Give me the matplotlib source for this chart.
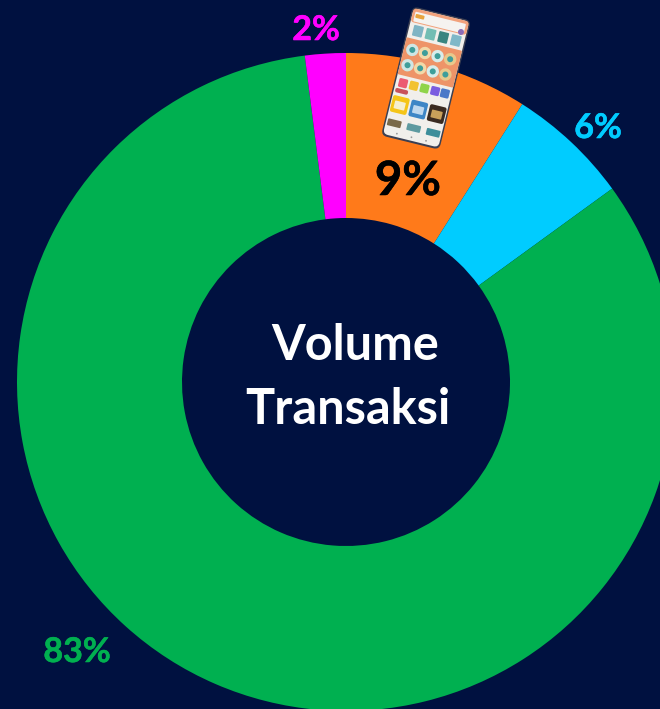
import matplotlib
matplotlib.use("Agg")
import matplotlib.pyplot as plt
from matplotlib.patches import FancyBboxPatch, Circle
from matplotlib.patheffects import withStroke
from matplotlib.transforms import Affine2D

W, H = 660, 709
BG = "#001140"
labels = ["Aplikasi", "Lainnya 1", "Lainnya 2", "Lainnya 3"]
values = [9, 6, 83, 2]
pct_text = ["9%", "6%", "83%", "2%"]
colors = ["#FF7A1A", "#00CCFF", "#00B050", "#FF00FF"]
pct_colors = ["#000000", "#00CCFF", "#00B050", "#FF00FF"]
pct_pos = [(408, 181), (598, 128), (77, 652), (316, 30)]
pct_size = [34, 24.5, 24.5, 24.5]
center_lines = ["Volume", "Transaksi"]
center_pos = [(355, 346), (348, 410)]

plt.rcParams["font.family"] = ["Lato", "DejaVu Sans"]
fig = plt.figure(figsize=(W / 100, H / 100), dpi=100, facecolor=BG)
ax = fig.add_axes([0, 0, 1, 1])

cx, cy, R, r = 346, 382, 329, 164
ax.pie(values, colors=colors, startangle=90, counterclock=False,
       radius=R, center=(cx, H - cy), frame=True,
       wedgeprops=dict(width=R - r, linewidth=0))
ax.set_xlim(0, W)
ax.set_ylim(0, H)
ax.set_aspect("equal")
ax.axis("off")

for t, (x, y), c, s in zip(pct_text, pct_pos, pct_colors, pct_size):
    ax.text(x, H - y, t, color=c, fontsize=s, fontweight="bold", ha="center", va="center", zorder=6,
            path_effects=[withStroke(linewidth=0.4, foreground=c)])
for t, (x, y) in zip(center_lines, center_pos):
    ax.text(x, H - y, t, color="white", fontsize=35, fontweight="bold", ha="center", va="center", zorder=6)

# phone illustration, drawn in its own tilted local frame
tf = Affine2D().rotate_deg(-13.8).translate(426, H - 78) + ax.transData


def box(u0, v0, w, h, col, rad=1.0, z=7):
    p = FancyBboxPatch((u0 + rad, v0 + rad), w - 2 * rad, h - 2 * rad,
                       boxstyle=f"round,pad={rad},rounding_size={rad}",
                       fc=col, ec="none", transform=tf, zorder=z)
    ax.add_patch(p)


def dot(u, v, rad, col, z=9):
    ax.add_patch(Circle((u, v), rad, fc=col, ec="none", transform=tf, zorder=z))


box(-30, -66.5, 60, 133, "#3B3F52", rad=6, z=7)
box(-28.5, -64.5, 57, 129.5, "#F1EFEB", rad=5, z=7.5)
box(-28.5, 51, 57, 14, "#F2A27C", rad=3, z=8)
box(-26, 52, 52, 10, "#F5F3F0", rad=1, z=8.5)
box(-25, 56, 9, 4, "#E8A33D", rad=1, z=9)
dot(23, 53, 3, "#8B6BB5")
# top card icons
for u, c in zip([-19, -6, 7, 20], ["#7FB4C4", "#72BDB3", "#3A8580", "#7FB8C8"]):
    box(u - 5, 38, 10, 11, c, rad=1, z=9)
# orange panel with two rows of round icons
box(-28.5, -3, 57, 38, "#EE9468", rad=1, z=8)
for v, us in zip([24, 8], [[-20, -7, 6, 19], [-21, -8, 5, 18]]):
    for u, c in zip(us, ["#CFE6E4", "#F2D9A8", "#D8ECEA", "#E8C98C"]):
        dot(u, v, 6.2, c)
        dot(u, v, 3, "#3E9E9A", z=10)
# colour squares
for u, c in zip([-21, -10, 1, 12, 22],
                ["#EC5A72", "#F2C230", "#8FD44A", "#7A5CE0", "#4A78C8"]):
    box(u - 4.5, -15, 9, 9, c, rad=1.5, z=9)
box(-27, -21, 13, 4.5, "#C8525A", rad=1.8, z=9)
# large tiles
for u, c, c2 in zip([-19, 0, 19], ["#F5C518", "#3E86C6", "#3A2A20"],
                    ["#F5EFD0", "#BFD8EE", "#C9A05A"]):
    box(u - 8.5, -41, 17, 17, c, rad=2, z=9)
    box(u - 5.5, -37, 11, 8, c2, rad=0.8, z=10)
# bottom tiles and nav dots
for u, c in zip([-20, 0, 20], ["#7A6A4A", "#5E9AA0", "#3E8E9A"]):
    box(u - 7, -55, 14, 7, c, rad=1, z=9)
for u in [-15, 0, 15]:
    dot(u, -61, 0.9, "#9A9A9A")

fig.savefig("out.png", dpi=100, facecolor=BG)
